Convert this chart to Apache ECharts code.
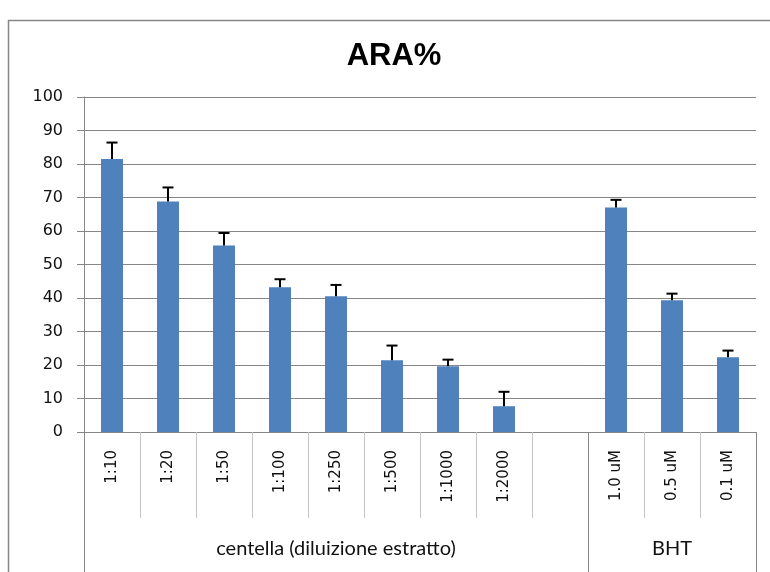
<!DOCTYPE html>
<html>
<head>
<meta charset="utf-8">
<script src="https://cdn.jsdelivr.net/npm/echarts@6/dist/echarts.min.js"></script>
<style>html,body{margin:0;padding:0;background:#fff}#c{width:770px;height:572px}</style>
</head>
<body>
<div id="c"></div>
<script>
var categories = ['1:10','1:20','1:50','1:100','1:250','1:500','1:1000','1:2000','','1.0 uM','0.5 uM','0.1 uM'];
var values = [81.5, 68.8, 55.7, 43.2, 40.5, 21.4, 19.6, 7.7, null, 67.0, 39.3, 22.3];
var errorTops = [86.4, 73.0, 59.4, 45.6, 43.9, 25.8, 21.6, 12.0, null, 69.3, 41.3, 24.3];
var groups = ['centella (diluizione estratto)', 'BHT'];
var groupBounds = [0, 9, 12];
var groupCenters = [4.5, 10.5];
var yTicks = [0,10,20,30,40,50,60,70,80,90,100];

var errData = [];
for (var i = 0; i < values.length; i++) {
  if (values[i] != null) errData.push([i, values[i], errorTops[i]]);
}

var chart = echarts.init(document.getElementById('c'), null, {renderer: 'canvas'});
var gray = '#868686';
chart.setOption({
  animation: false,
  title: {
    text: 'ARA%', left: 389, top: 36, textAlign: 'center',
    textStyle: {fontFamily: 'Liberation Sans', fontWeight: 'bold', fontSize: 31, color: '#000'}
  },
  graphic: [{
    type: 'rect', silent: true,
    shape: {x: 8.5, y: 20.5, width: 790, height: 600},
    style: {fill: 'none', stroke: gray, lineWidth: 1.5}
  }],
  grid: {left: 84, right: 14, top: 97, bottom: 140},
  xAxis: [{
    type: 'category', data: categories, boundaryGap: true,
    axisLine: {show: true, lineStyle: {color: gray, width: 1}},
    axisTick: {show: true, interval: 0, length: 86, lineStyle: {color: '#c4c4c4', width: 1}},
    axisLabel: {interval: 0, rotate: 90, margin: 18, fontFamily: 'DejaVu Sans', fontSize: 15, color: '#111'},
    splitLine: {show: false}
  }, {
    type: 'value', min: 0, max: 12, position: 'bottom',
    axisLine: {show: false},
    axisTick: {show: true, customValues: groupBounds, length: 140, inside: false, lineStyle: {color: gray, width: 1}},
    axisLabel: {show: true, customValues: groupCenters, margin: 107, fontFamily: 'Lato', fontSize: 20, color: '#111',
      formatter: function (v) { return groups[groupCenters.indexOf(v)]; }},
    splitLine: {show: false}
  }],
  yAxis: {
    type: 'value', min: 0, max: 100, interval: 10,
    axisLine: {show: true, lineStyle: {color: gray, width: 1}},
    axisTick: {show: true, length: 7, lineStyle: {color: gray}},
    axisLabel: {margin: 21, fontFamily: 'DejaVu Sans', fontSize: 16, color: '#111',
      customValues: yTicks},
    splitLine: {show: true, lineStyle: {color: gray, width: 1}}
  },
  series: [{
    type: 'bar', data: values, barWidth: 22, xAxisIndex: 0,
    itemStyle: {color: '#4F81BD'}, z: 2
  }, {
    type: 'custom', xAxisIndex: 0, data: errData, z: 3,
    renderItem: function (params, api) {
      var x = api.value(0);
      var base = api.coord([x, api.value(1)]);
      var top = api.coord([x, api.value(2)]);
      var cap = 5.5;
      return {
        type: 'group',
        children: [{
          type: 'line', shape: {x1: base[0], y1: base[1], x2: top[0], y2: top[1]},
          style: {stroke: '#000', lineWidth: 2}
        }, {
          type: 'line', shape: {x1: top[0] - cap, y1: top[1], x2: top[0] + cap, y2: top[1]},
          style: {stroke: '#000', lineWidth: 2}
        }]
      };
    }
  }]
});
</script>
</body>
</html>
